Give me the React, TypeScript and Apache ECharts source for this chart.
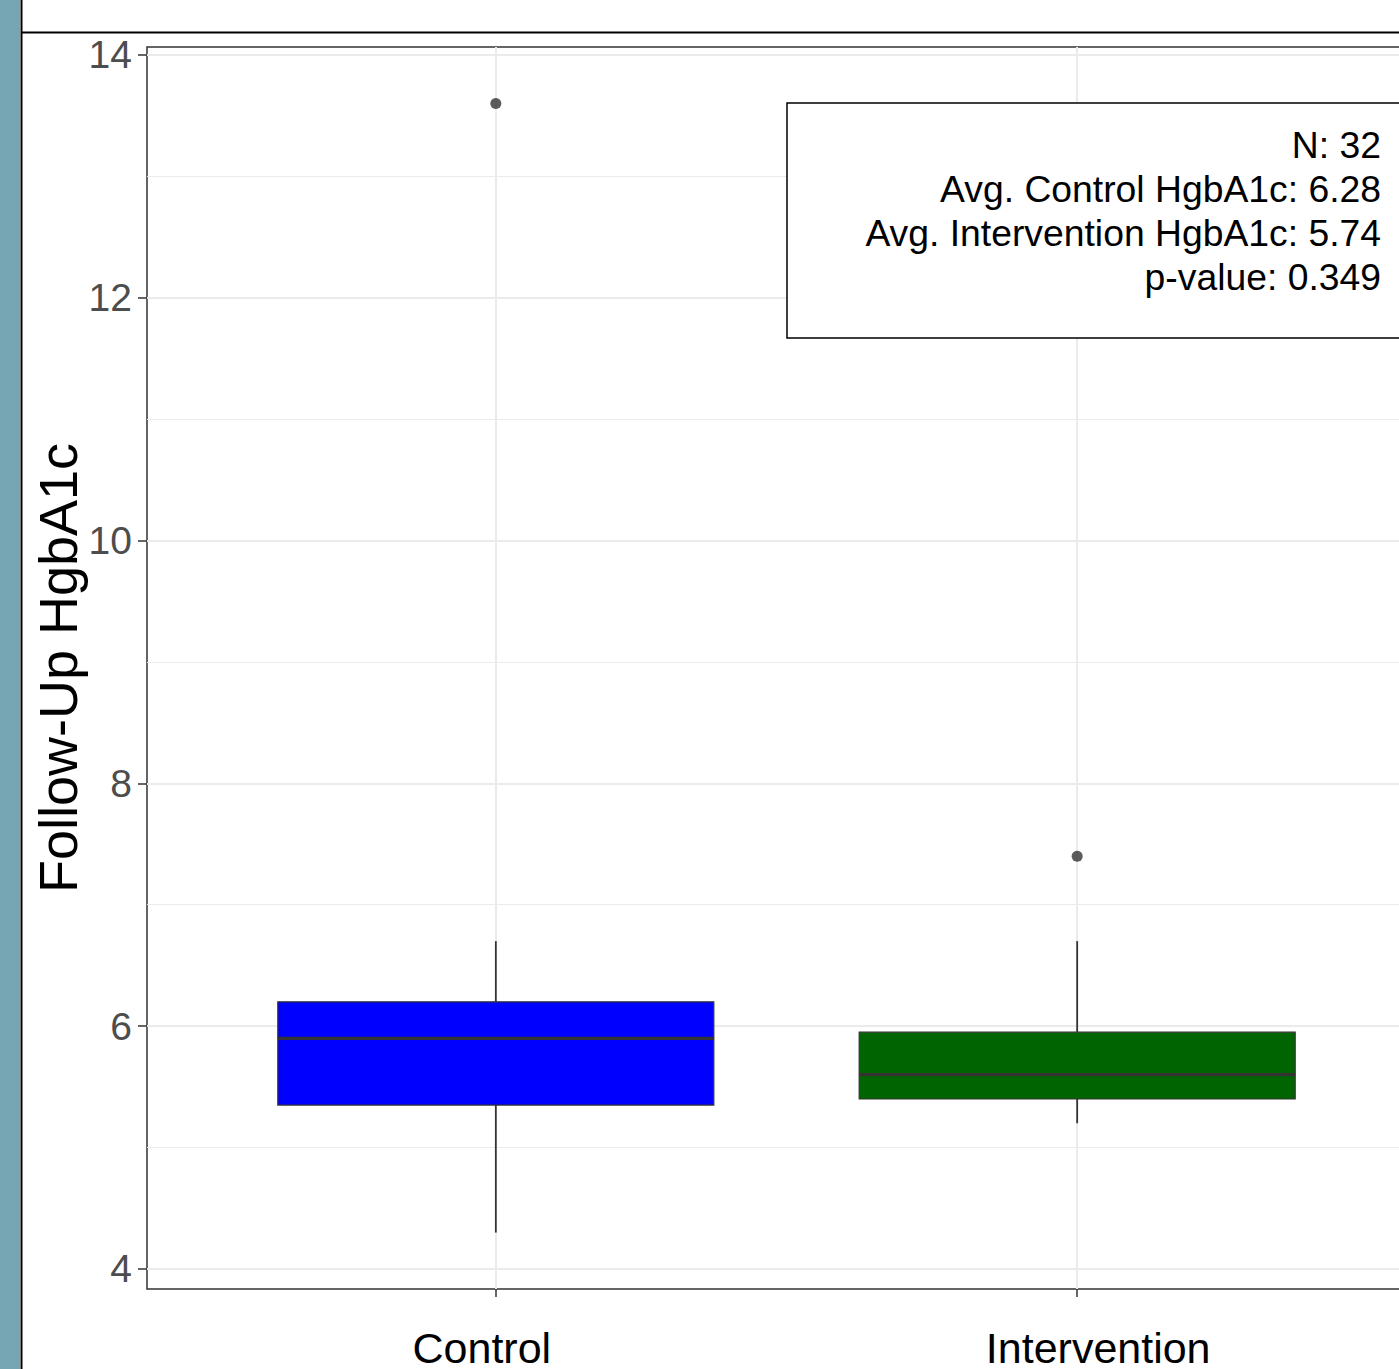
import React, { useEffect, useRef } from "react";
import * as echarts from "echarts";

// ---- data ----
const categories = ["Control", "Intervention"];
const positions = [1, 2];
const whiskerLow = [4.3, 5.2];
const q1 = [5.35, 5.4];
const median = [5.9, 5.6];
const q3 = [6.2, 5.95];
const whiskerHigh = [6.7, 6.7];
const outlierPos = [1, 2];
const outlierValues = [13.6, 7.4];
const boxColors = ["#0000FF", "#006400"];
const yMajorTicks = [4, 6, 8, 10, 12, 14];
const yMinorTicks = [5, 7, 9, 11, 13];
const xTicks = [1, 2];
const statN = 32;
const statAvgControl = 6.28;
const statAvgIntervention = 5.74;
const statPValue = 0.349;

const FONT = "'Liberation Sans', Arial, Helvetica, sans-serif";

export default function App() {
  const ref = useRef<HTMLDivElement>(null);
  useEffect(() => {
    if (!ref.current) return;
    const chart = echarts.init(ref.current, undefined, { renderer: "svg" });

    const boxData = positions.map((p, i) => [
      p,
      whiskerLow[i],
      q1[i],
      median[i],
      q3[i],
      whiskerHigh[i],
      i,
    ]);
    const outlierData = outlierPos.map((p, i) => [p, outlierValues[i]]);

    const gridLines = [
      ...yMajorTicks.map((v) => ({ yAxis: v, lineStyle: { width: 2 } })),
      ...yMinorTicks.map((v) => ({ yAxis: v, lineStyle: { width: 1.2 } })),
      ...xTicks.map((v) => ({ xAxis: v, lineStyle: { width: 2 } })),
    ];

    const statLines = [
      `N: ${statN}`,
      `Avg. Control HgbA1c: ${statAvgControl.toFixed(2)}`,
      `Avg. Intervention HgbA1c: ${statAvgIntervention.toFixed(2)}`,
      `p-value: ${statPValue}`,
    ];

    const option: any = {
      animation: false,
      backgroundColor: "#ffffff",
      grid: {
        left: 147,
        top: 47,
        right: 14,
        bottom: 79,
        show: true,
        borderColor: "#333333",
        borderWidth: 1.5,
        backgroundColor: "#ffffff",
        containLabel: false,
      },
      xAxis: {
        type: "value",
        min: 0.4,
        max: 2.6,
        axisLine: { show: false },
        splitLine: { show: false },
        axisTick: {
          show: true,
          customValues: xTicks,
          length: 8,
          lineStyle: { color: "#333333", width: 1.5 },
        },
        axisLabel: {
          customValues: xTicks,
          margin: 37,
          color: "#000000",
          fontFamily: FONT,
          fontSize: 43,
          formatter: (v: number) => {
            const idx = positions.indexOf(v);
            if (idx < 0) return "";
            return idx === 0
              ? `{a|${categories[idx]}}`
              : `{b|${categories[idx]}}`;
          },
          rich: {
            a: { fontFamily: FONT, fontSize: 43, color: "#000", padding: [0, 28, 0, 0] },
            b: { fontFamily: FONT, fontSize: 43, color: "#000", padding: [0, 0, 0, 42] },
          },
        },
      },
      yAxis: {
        type: "value",
        min: 3.835,
        max: 14.065,
        name: "Follow-Up HgbA1c",
        nameLocation: "middle",
        nameGap: 62,
        nameMoveOverlap: false,
        nameTextStyle: { fontFamily: FONT, fontSize: 54, color: "#000000" },
        axisLine: { show: false },
        splitLine: { show: false },
        axisTick: {
          show: true,
          customValues: yMajorTicks,
          length: 9,
          lineStyle: { color: "#333333", width: 1.5 },
        },
        axisLabel: {
          customValues: yMajorTicks,
          margin: 15,
          color: "#4d4d4d",
          fontFamily: FONT,
          fontSize: 39,
        },
      },
      series: [
        {
          type: "scatter",
          name: "outliers",
          data: outlierData,
          symbol: "circle",
          symbolSize: 11,
          itemStyle: { color: "#333333" },
          z: 4,
          markLine: {
            silent: true,
            symbol: "none",
            z: 0,
            label: { show: false },
            lineStyle: { color: "#ebebeb", type: "solid" },
            emphasis: { disabled: true },
            data: gridLines,
          },
        },
        {
          type: "custom",
          name: "boxes",
          data: boxData,
          z: 3,
          encode: { x: 0, y: [1, 2, 3, 4, 5] },
          renderItem: (params: any, api: any) => {
            const x = api.value(0);
            const lo = api.value(1);
            const b1 = api.value(2);
            const md = api.value(3);
            const b3 = api.value(4);
            const hi = api.value(5);
            const ci = api.value(6);
            const pLo = api.coord([x, lo]);
            const p1 = api.coord([x, b1]);
            const pm = api.coord([x, md]);
            const p3 = api.coord([x, b3]);
            const pHi = api.coord([x, hi]);
            const w = api.size([0.75, 0])[0];
            const cx = pm[0];
            const stroke = "#333333";
            return {
              type: "group",
              children: [
                {
                  type: "line",
                  shape: { x1: cx, y1: pLo[1], x2: cx, y2: p1[1] },
                  style: { stroke, lineWidth: 1.8 },
                },
                {
                  type: "line",
                  shape: { x1: cx, y1: p3[1], x2: cx, y2: pHi[1] },
                  style: { stroke, lineWidth: 1.8 },
                },
                {
                  type: "rect",
                  shape: { x: cx - w / 2, y: p3[1], width: w, height: p1[1] - p3[1] },
                  style: { fill: boxColors[ci], stroke, lineWidth: 1.2 },
                },
                {
                  type: "line",
                  shape: { x1: cx - w / 2, y1: pm[1], x2: cx + w / 2, y2: pm[1] },
                  style: { stroke, lineWidth: 3.2 },
                },
              ],
            };
          },
        },
      ],
      graphic: [
        {
          type: "rect",
          z: 100,
          shape: { x: 0, y: 0, width: 20, height: 1369 },
          style: { fill: "#76a6b4" },
        },
        {
          type: "line",
          z: 100,
          shape: { x1: 21.5, y1: 0, x2: 21.5, y2: 1369 },
          style: { stroke: "#000000", lineWidth: 2 },
        },
        {
          type: "line",
          z: 100,
          shape: { x1: 21, y1: 32.5, x2: 1440, y2: 32.5 },
          style: { stroke: "#000000", lineWidth: 2 },
        },
        {
          type: "rect",
          z: 100,
          shape: { x: 787, y: 103, width: 700, height: 235 },
          style: { fill: "#ffffff", stroke: "#000000", lineWidth: 1.5 },
        },
        {
          type: "text",
          z: 101,
          x: 1381,
          y: 123,
          style: {
            text: statLines.join("\n"),
            align: "right",
            verticalAlign: "top",
            fontFamily: FONT,
            fontSize: 37.3,
            lineHeight: 44,
            fill: "#000000",
          },
        },
      ],
    };

    chart.setOption(option);
    return () => chart.dispose();
  }, []);

  return (
    <div
      style={{
        position: "absolute",
        left: 0,
        top: 0,
        width: 1399,
        height: 1369,
        overflow: "hidden",
        background: "#fff",
      }}
    >
      <div ref={ref} style={{ width: 1440, height: 1369 }} />
    </div>
  );
}
